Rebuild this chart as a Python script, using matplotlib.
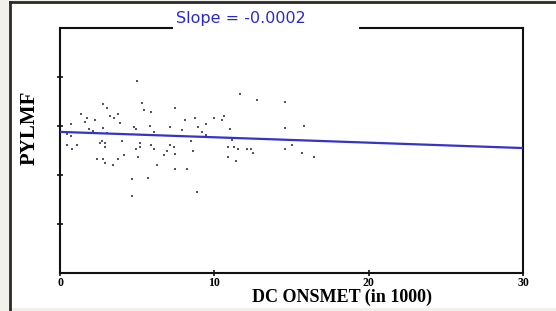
import matplotlib
matplotlib.use("Agg")
import matplotlib.pyplot as plt
from matplotlib.patches import Rectangle
from matplotlib.lines import Line2D
import numpy as np

# Data (DC ONSMET in 1000, PYLMF)
dconsmet = [4.99, 1.36, 2.79, 3.05, 5.31, 5.44, 5.90, 3.24, 3.50, 3.76,
            1.75, 1.62, 2.27, 0.71, 3.89, 2.79, 3.05, 4.79, 4.92, 1.88,
            2.14, 5.83, 6.09, 7.13, 0.45, 0.71, 0.45, 0.78, 1.10, 2.59,
            2.72, 2.92, 2.92, 4.02, 5.18, 5.18, 4.92, 5.90, 6.09, 7.13,
            6.93, 6.74, 2.40, 2.79, 2.92, 3.76, 4.15, 3.43, 5.05, 6.29,
            5.70, 4.67, 4.67, 11.66, 12.76, 14.58, 7.45, 8.10, 8.75, 9.98,
            10.49, 10.62, 9.46, 8.94, 7.91, 9.20, 9.46, 11.02, 14.58, 15.81,
            8.49, 11.14, 7.39, 8.62, 7.45, 10.89, 11.27, 11.53, 12.12, 12.38,
            12.51, 14.58, 15.03, 15.68, 16.46, 10.89, 11.40, 8.23, 8.88, 7.45]
pylmf = [3.92, 3.24, 3.45, 3.37, 3.47, 3.33, 3.29, 3.20, 3.16, 3.24,
         3.16, 3.08, 3.12, 3.04, 3.06, 2.96, 2.86, 2.98, 2.94, 2.94,
         2.90, 3.00, 2.88, 2.98, 2.84, 2.80, 2.61, 2.53, 2.61, 2.65,
         2.69, 2.65, 2.57, 2.69, 2.65, 2.57, 2.53, 2.61, 2.53, 2.61,
         2.49, 2.41, 2.33, 2.33, 2.24, 2.33, 2.41, 2.20, 2.37, 2.20,
         1.94, 1.92, 1.57, 3.65, 3.53, 3.49, 3.37, 3.12, 3.16, 3.16,
         3.12, 3.20, 3.04, 2.98, 2.92, 2.88, 2.82, 2.94, 2.96, 3.00,
         2.69, 2.71, 2.57, 2.49, 2.43, 2.57, 2.57, 2.53, 2.53, 2.53,
         2.45, 2.53, 2.61, 2.45, 2.37, 2.37, 2.29, 2.12, 1.65, 2.12]

fit_intercept = 2.88
fit_slope = -0.011
x_ticks = [0, 10, 20, 30]
x_tick_labels = ["0", "10", "20", "30"]
y_ticks = [1, 2, 3, 4]
title_text = "Slope = -0.0002"
x_label = "DC ONSMET (in 1000)"
y_label = "PYLMF"

W, H = 556, 311
fig = plt.figure(figsize=(W / 100, H / 100), dpi=100)
fig.patch.set_facecolor("#f1f0ea")

# panel background and its top/left border
fig.patches.append(Rectangle((10 / W, 1 - 308 / H), 560 / W, 306 / H,
                             transform=fig.transFigure, facecolor="white",
                             edgecolor="none", zorder=-2))
fig.lines.append(Line2D([10 / W, 10 / W], [1 - 311 / H, 1 - 1.5 / H],
                        transform=fig.transFigure, color="#2a2a2a", linewidth=2.0, zorder=-1))
fig.lines.append(Line2D([10 / W, 1.0], [1 - 1.5 / H, 1 - 1.5 / H],
                        transform=fig.transFigure, color="#2a2a2a", linewidth=2.0, zorder=-1))

ax = fig.add_axes([60 / W, 1 - 273 / H, 463 / W, 245 / H])
ax.set_facecolor("white")
ax.set_xlim(0, 30)
ax.set_ylim(0, 5)

ax.scatter(dconsmet, pylmf, s=2.0, marker="s", color="#5e4e6e", linewidths=0, zorder=3)

xs = np.array([0, 30])
ax.plot(xs, fit_intercept + fit_slope * xs, color="#3434c8", linewidth=1.6, zorder=4)

for s in ax.spines.values():
    s.set_linewidth(1.5)
    s.set_color("#111111")

ax.set_xticks(x_ticks)
ax.set_xticklabels(x_tick_labels, fontfamily="Liberation Serif", fontweight="bold", fontsize=8.5)
ax.set_yticks(y_ticks)
ax.set_yticklabels([])
ax.tick_params(axis="both", direction="inout", length=4, width=1.2, color="#111111", pad=1)

fig.text(30 / W, 1 - 128 / H, y_label, rotation=90, ha="center", va="center",
         fontfamily="Liberation Serif", fontweight="bold", fontsize=15)
fig.text(342 / W, 1 - 297 / H, x_label, ha="center", va="center",
         fontfamily="Liberation Serif", fontweight="bold", fontsize=13)

fig.text(241 / W, 1 - 18 / H, title_text, ha="center", va="center", color="#2a2ad0",
         fontfamily="DejaVu Sans", fontsize=11.5, zorder=10)
# title gap in the top frame line
fig.patches.append(Rectangle((173 / W, 1 - 31 / H), 186 / W, 6 / H,
                             transform=fig.transFigure, facecolor="white",
                             edgecolor="none", zorder=5))

fig.savefig("out.png", dpi=100, facecolor=fig.get_facecolor())
